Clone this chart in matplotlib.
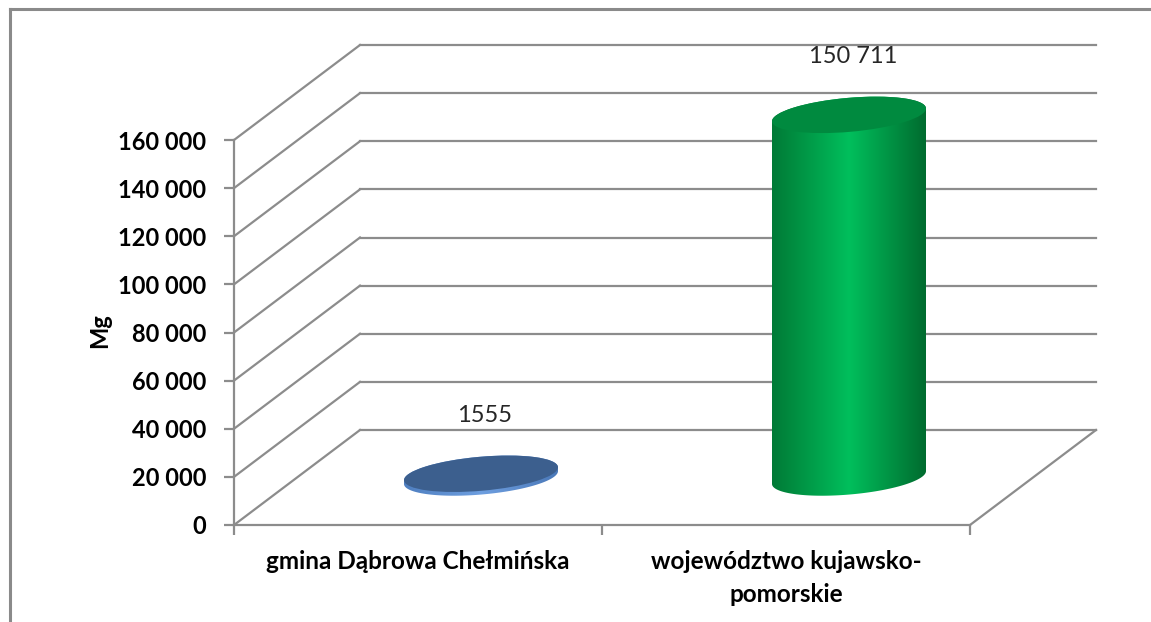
import numpy as np
import matplotlib
matplotlib.use('Agg')
import matplotlib.pyplot as plt
from matplotlib import transforms
from matplotlib.patches import Polygon, Ellipse
from matplotlib.lines import Line2D
from matplotlib.ticker import FuncFormatter
from matplotlib.colors import to_rgb

plt.rcParams['font.family'] = ['Lato', 'DejaVu Sans']

# dane
categories = ['gmina Dąbrowa Chełmińska', 'województwo kujawsko-\npomorskie']
values = [1555, 150711]
value_labels = ['1555', '150 711']
y_ticks = [0, 20000, 40000, 60000, 80000, 100000, 120000, 140000, 160000]
y_label = 'Mg'

# kolory walców: boki (lewa krawedz, srodek, prawa krawedz), pokrywa
side_colors = [['#4f7fc0', '#6e9fe0', '#4a78b8'],
               ['#007a36', '#00bf5c', '#006a2e']]
cap_colors = ['#3c5f8e', '#008a3f']

GRID = '#8c8c8c'
BAR_W = 0.42          # szerokosc walca w jednostkach kategorii
DEPTH = (126, 95)     # przesuniecie glebi w pikselach
TILT = 5              # pochylenie elipsy (stopnie)
B = 17                # mala polos elipsy (px)

fig = plt.figure(figsize=(11.51, 6.22), dpi=100)
ax = fig.add_axes([234 / 1151, 97 / 622, 736 / 1151, 385 / 622])
ax.set_xlim(0, 2)
ax.set_ylim(0, y_ticks[-1])
ax.patch.set_alpha(0)
for s in ['top', 'right']:
    ax.spines[s].set_visible(False)
for s in ['left', 'bottom']:
    ax.spines[s].set_color(GRID)
    ax.spines[s].set_linewidth(1.6)

ax.set_yticks(y_ticks)
ax.yaxis.set_major_formatter(FuncFormatter(lambda v, p: f'{int(v):,}'.replace(',', ' ')))
ax.tick_params(axis='y', length=7, width=1.6, color=GRID, pad=13, labelsize=17)
ax.set_xticks([0, 1, 2])
ax.set_xticklabels([])
ax.set_xticks([0.5, 1.5], minor=True)
ax.set_xticklabels(categories, minor=True)
ax.tick_params(axis='x', which='major', length=7, width=1.6, color=GRID)
ax.tick_params(axis='x', which='minor', length=0, pad=18, labelsize=17.5)
for lab in ax.get_yticklabels():
    lab.set_fontweight('bold')
for lab in ax.get_xticklabels(minor=True):
    lab.set_fontweight('bold')
    lab.set_linespacing(1.55)
ax.set_ylabel(y_label, fontsize=17, fontweight='bold')
ax.yaxis.label.set_va('center')
ax.yaxis.set_label_coords(-0.182, 0.506)

# transformacje: 1 jednostka = 1 piksel, zakotwiczone w punkcie danych
px = transforms.Affine2D().scale(1 / 100) + fig.dpi_scale_trans


def at(x, y):
    return px + transforms.ScaledTranslation(x, y, ax.transData)


back = transforms.ScaledTranslation(DEPTH[0] / 100, DEPTH[1] / 100, fig.dpi_scale_trans)
half = transforms.ScaledTranslation(DEPTH[0] / 200, DEPTH[1] / 200, fig.dpi_scale_trans)

# siatka: sciana tylna i boczna
for v in y_ticks:
    ax.plot([0, 2], [v, v], color=GRID, lw=1.6, transform=ax.transData + back, clip_on=False)
    ax.add_line(Line2D([0, DEPTH[0]], [0, DEPTH[1]], color=GRID, lw=1.6,
                       transform=at(0, v), clip_on=False))
ax.add_line(Line2D([0, DEPTH[0]], [0, DEPTH[1]], color=GRID, lw=1.6,
                   transform=at(2, 0), clip_on=False))

# warstwa na walce
ax_o = fig.add_axes([0, 0, 1, 1], zorder=2)
ax_o.set_axis_off()

# ramka wykresu
ax_o.add_line(Line2D([10 / 1151, 1], [1 - 9 / 622, 1 - 9 / 622], color='#8a8a8a', lw=2.2))
ax_o.add_line(Line2D([10 / 1151, 10 / 1151], [0, 1 - 9 / 622], color='#8a8a8a', lw=2.2))

w_px = ax.transData.transform((BAR_W, 0))[0] - ax.transData.transform((0, 0))[0]
a = w_px / 2
th = np.radians(TILT)


def ell(t):
    return (a * np.cos(t) * np.cos(th) - B * np.sin(t) * np.sin(th),
            a * np.cos(t) * np.sin(th) + B * np.sin(t) * np.cos(th))


t0 = np.arctan(-B * np.tan(th) / a)
for i, v in enumerate(values):
    xc = i + 0.5
    h = ax.transData.transform((0, v))[1] - ax.transData.transform((0, 0))[1]
    tr = at(xc, 0) + half
    lx, ly = ell(np.linspace(t0 + np.pi, t0 + 2 * np.pi, 120))
    ux, uy = ell(np.linspace(t0, t0 + np.pi, 120))
    outline = np.column_stack([np.r_[lx, ux], np.r_[ly, uy + h]])
    body = Polygon(outline, closed=True, fc='none', ec='none', transform=tr)
    ax_o.add_patch(body)

    c0, c1, c2 = [np.array(to_rgb(c)) for c in side_colors[i]]
    s = np.linspace(0, 1, 256)
    grad = np.where(s[:, None] < 0.5,
                    c0 + (c1 - c0) * (s[:, None] / 0.5),
                    c1 + (c2 - c1) * ((s[:, None] - 0.5) / 0.5))
    xmax = np.abs(outline[:, 0]).max()
    im = ax_o.imshow(grad[None, :, :], extent=(-xmax, xmax, outline[:, 1].min() - 2, outline[:, 1].max() + 2),
                     transform=tr, aspect='auto', interpolation='bilinear')
    im.set_clip_path(body)

    cap = Ellipse((0, h), 2 * a, 2 * B, angle=TILT, fc=cap_colors[i], ec='none', transform=tr)
    ax_o.add_patch(cap)

    ax_o.text(4, h + 58, value_labels[i], ha='center', va='center', fontsize=17,
              color='#262626', transform=tr)

ax_o.set_xlim(0, 1)
ax_o.set_ylim(0, 1)

fig.savefig('out.png', dpi=100)
